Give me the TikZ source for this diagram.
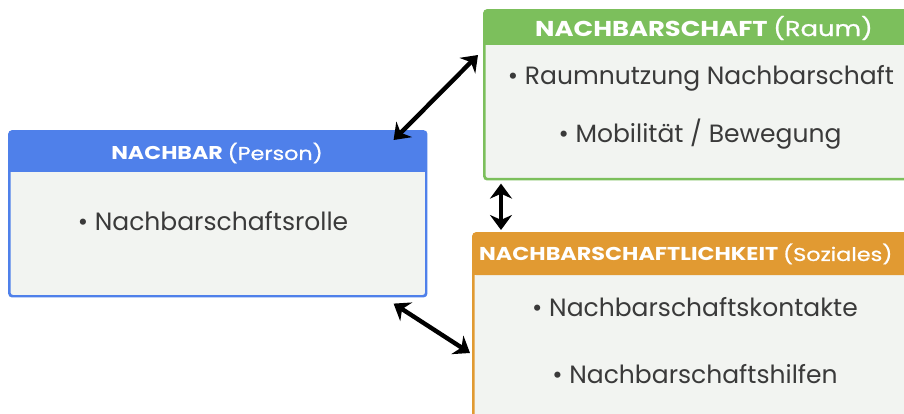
\documentclass[tikz,border=0pt]{standalone}
\usepackage{fontspec}
\setmainfont{Poppins}
\newfontfamily\hdrfont[FakeStretch=1.2]{Poppins}
\newfontfamily\hdrsemi[FakeStretch=1.2, FakeBold=0.9]{Poppins}
\usetikzlibrary{arrows.meta}
\definecolor{hdrblue}{HTML}{4F80EA}
\definecolor{hdrgreen}{HTML}{7CBF5C}
\definecolor{hdrorange}{HTML}{E19A32}
\definecolor{bodyfill}{HTML}{F2F4F1}
\definecolor{bodytext}{HTML}{3A3A3A}
\tikzset{
  panel/.style={draw=#1, line width=1.6pt, fill=bodyfill, rounded corners=3pt,
    anchor=north west, inner sep=0pt},
  hdrtext/.style={text=white, inner sep=0pt},
  item/.style={text=bodytext, font=\fontsize{25}{28}\selectfont, inner sep=0pt},
  link/.style={line width=4.4pt, {Stealth[length=15pt,width=22pt]}-{Stealth[length=15pt,width=22pt]}},
}
% title text: bold caps followed by a lighter bracketed word, at a given size
\newcommand{\paneltitle}[3]{{\hdrfont\bfseries\fontsize{#3}{24}\selectfont#1 }%
  {\hdrsemi\fontsize{#3}{24}\selectfont#2}}
% draws the coloured title band on top of a panel
\newcommand{\titleband}[3]{%
  \fill[#2, rounded corners=3pt] (#1.north west) rectangle ([yshift=-#3]#1.north east);
  \fill[#2] ([yshift=-#3/2]#1.north west) rectangle ([yshift=-#3]#1.north east);
  \draw[#2, line width=1.6pt, rounded corners=3pt] (#1.south west) rectangle (#1.north east);
}
\begin{document}
\begin{tikzpicture}[x=1pt, y=-1pt]
\useasboundingbox (0,0) rectangle (904,414);
\clip (0,0) rectangle (904,414);
\fill[white] (0,0) rectangle (904,414);

% person panel
\node[panel=hdrblue, minimum width=416pt, minimum height=164pt] (nachbar) at (9,131) {};
\titleband{nachbar}{hdrblue}{41pt}
\node[hdrtext] (nachbarT) at (217,153) {\paneltitle{NACHBAR}{(Person)}{18.5}};
\node[item] (nachbarA) at (213,221) {• Nachbarschaftsrolle};

% space panel
\node[panel=hdrgreen, minimum width=434pt, minimum height=168pt] (raum) at (484,10) {};
\titleband{raum}{hdrgreen}{35pt}
\node[hdrtext] (raumT) at (704,28) {\paneltitle{NACHBARSCHAFT}{(Raum)}{21.5}};
\node[item] (raumA) at (701,78) {• Raumnutzung Nachbarschaft};
\node[item] (raumB) at (700,134) {• Mobilität / Bewegung};

% social panel
\node[panel=hdrorange, minimum width=444pt, minimum height=200pt] (sozial) at (473,233) {};
\titleband{sozial}{hdrorange}{42pt}
\node[hdrtext, anchor=west] (sozialT) at (479,254)
  {\paneltitle{NACHBARSCHAFTLICHKEIT}{(Soziales)}{18.6}};
\node[item] (sozialA) at (695,307) {• Nachbarschaftskontakte};
\node[item] (sozialB) at (695,374) {• Nachbarschaftshilfen};

% relations
\draw[link] ([xshift=-33pt, yshift=-9pt]nachbar.north east) -- ([xshift=-6pt, yshift=-45pt]raum.north west);
\draw[link] ([xshift=17pt, yshift=-4pt]raum.south west) -- ([xshift=28pt, yshift=3pt]sozial.north west);
\draw[link] ([xshift=-33pt, yshift=-7pt]nachbar.south east) -- ([xshift=-3pt, yshift=-120pt]sozial.north west);
\end{tikzpicture}
\end{document}
